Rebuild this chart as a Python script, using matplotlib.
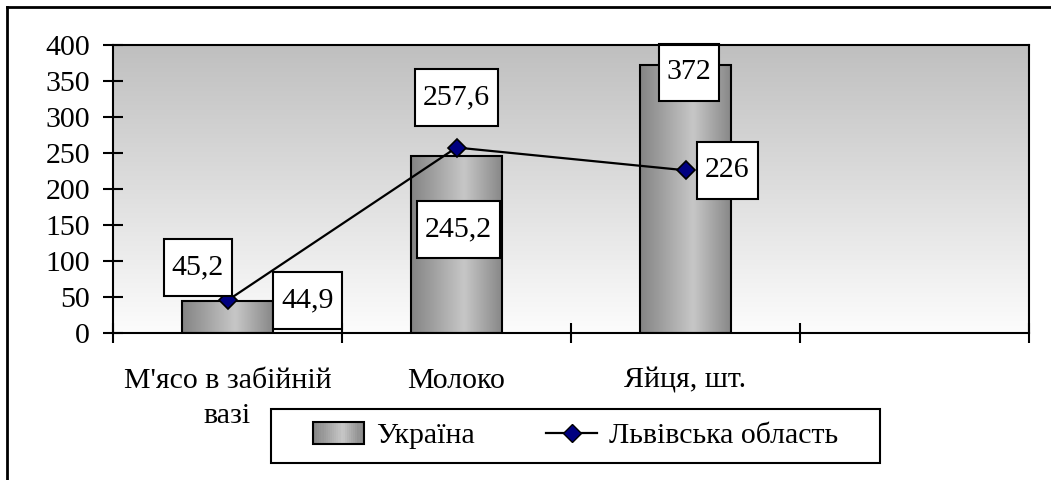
import numpy as np
import matplotlib
matplotlib.use("Agg")
import matplotlib.pyplot as plt
from matplotlib.patches import Rectangle
from matplotlib.lines import Line2D
from matplotlib.path import Path
from matplotlib.legend_handler import HandlerBase

plt.rcParams['font.family'] = ['Liberation Serif', 'DejaVu Serif']

categories = ["М'ясо в забійній\nвазі", "Молоко", "Яйця, шт."]
ukraine = [44.9, 245.2, 372]
lviv = [45.2, 257.6, 226]
ukraine_labels = ["44,9", "245,2", "372"]
lviv_labels = ["45,2", "257,6", "226"]
yticks = [0, 50, 100, 150, 200, 250, 300, 350, 400]

# label offsets from their point, in pixels (dx, dy up)
ukraine_offsets = [(80, 0), (2, -73), (3.5, -7)]
lviv_offsets = [(-29.5, 33), (0, 50), (42, 0)]

FS = 21.5
W, H = 1051, 480


def bar_shade(n=64):
    t = np.linspace(0, 1, n)
    return np.interp(t, [0, 0.58, 1], [0.52, 0.78, 0.53])


def label_box(x0, y0, width, height, mutation_size):
    px = 0.27 * mutation_size
    py = 0.52 * mutation_size
    x0 -= px
    y0 -= py
    x1 = x0 + width + 2 * px
    y1 = y0 + height + 2 * py
    return Path([(x0, y0), (x1, y0), (x1, y1), (x0, y1), (x0, y0)], closed=True)


class GradientHandler(HandlerBase):
    def create_artists(self, legend, orig_handle, xdescent, ydescent,
                       width, height, fontsize, trans):
        shades = bar_shade(24)
        arts = []
        step = width / len(shades)
        h = height * 1.1
        y0 = -ydescent - (h - height) / 2
        for i, s in enumerate(shades):
            arts.append(Rectangle((-xdescent + i * step, y0), step * 1.05, h,
                                  facecolor=(s, s, s), edgecolor='none',
                                  transform=trans))
        arts.append(Rectangle((-xdescent, y0), width, h, facecolor='none',
                              edgecolor='black', lw=1.5, transform=trans))
        return arts


fig = plt.figure(figsize=(W / 100, H / 100), dpi=100)
ax = fig.add_axes([113 / W, 1 - 333 / H, (1029 - 113) / W, (333 - 45) / H])

x = np.arange(len(categories))

# background gradient
bg = np.linspace(0.75, 0.99, 256).reshape(-1, 1)
ax.imshow(np.dstack([bg, bg, bg]), extent=(-0.5, 3.5, 0, 400), aspect='auto',
          origin='upper', zorder=0)

bars = ax.bar(x, ukraine, width=0.4, facecolor='none', edgecolor='black',
              lw=1.5, zorder=3)
shade = bar_shade()
for b in bars:
    ax.imshow(np.dstack([shade, shade, shade]).reshape(1, -1, 3),
              extent=(b.get_x(), b.get_x() + b.get_width(), 0, b.get_height()),
              aspect='auto', zorder=2)

ax.plot(x, lviv, color='black', lw=1.6, marker='D', markersize=9,
        markerfacecolor='#000080', markeredgecolor='black',
        markeredgewidth=1.2, zorder=5)

box = dict(boxstyle=label_box, facecolor='white', edgecolor='black', lw=1.5)
for xi, v, txt, (dx, dy) in zip(x, ukraine, ukraine_labels, ukraine_offsets):
    ax.annotate(txt, (xi, v), xytext=(dx * 0.72, dy * 0.72),
                textcoords='offset points', ha='center', va='center',
                fontsize=FS, bbox=box, zorder=6)
for xi, v, txt, (dx, dy) in zip(x, lviv, lviv_labels, lviv_offsets):
    ax.annotate(txt, (xi, v), xytext=(dx * 0.72, dy * 0.72),
                textcoords='offset points', ha='center', va='center',
                fontsize=FS, bbox=box, zorder=6)

ax.set_xlim(-0.5, 3.5)
ax.set_ylim(0, 400)
ax.set_yticks(yticks)
ax.set_xticks(x)
ax.set_xticklabels(categories, fontsize=FS, linespacing=1.45)
ax.set_xticks(np.arange(-0.5, 4, 1), minor=True)
ax.tick_params(axis='x', which='major', length=0, pad=25)
ax.tick_params(axis='x', which='minor', direction='inout', length=15, width=1.5)
ax.tick_params(axis='y', direction='inout', length=15, width=1.5, pad=9,
               labelsize=FS)
for s in ax.spines.values():
    s.set_linewidth(1.5)
    s.set_zorder(7)

# legend
handles = [Rectangle((0, 0), 1, 1), Line2D([], [], color='black', lw=1.6, marker='D',
                                            markersize=9, markerfacecolor='#000080',
                                            markeredgecolor='black')]
fig.legend(handles, ['Україна', 'Львівська область'], loc='center',
           bbox_to_anchor=((271 + 880) / 2 / W, 1 - 436 / H), ncol=2,
           frameon=False, fontsize=FS, handlelength=1.7, handletextpad=0.4,
           columnspacing=2.4, numpoints=1,
           handler_map={Rectangle: GradientHandler()})
fig.add_artist(Rectangle((271 / W, 1 - 463 / H), (880 - 271) / W, 54 / H,
                         transform=fig.transFigure, facecolor='none',
                         edgecolor='black', lw=1.5))

# outer frame (left and top)
fig.add_artist(Line2D([7 / W, 1], [1 - 7 / H, 1 - 7 / H], transform=fig.transFigure,
                      color='black', lw=2))
fig.add_artist(Line2D([7 / W, 7 / W], [0, 1 - 7 / H], transform=fig.transFigure,
                      color='black', lw=2))

fig.savefig('out.png', dpi=100)
